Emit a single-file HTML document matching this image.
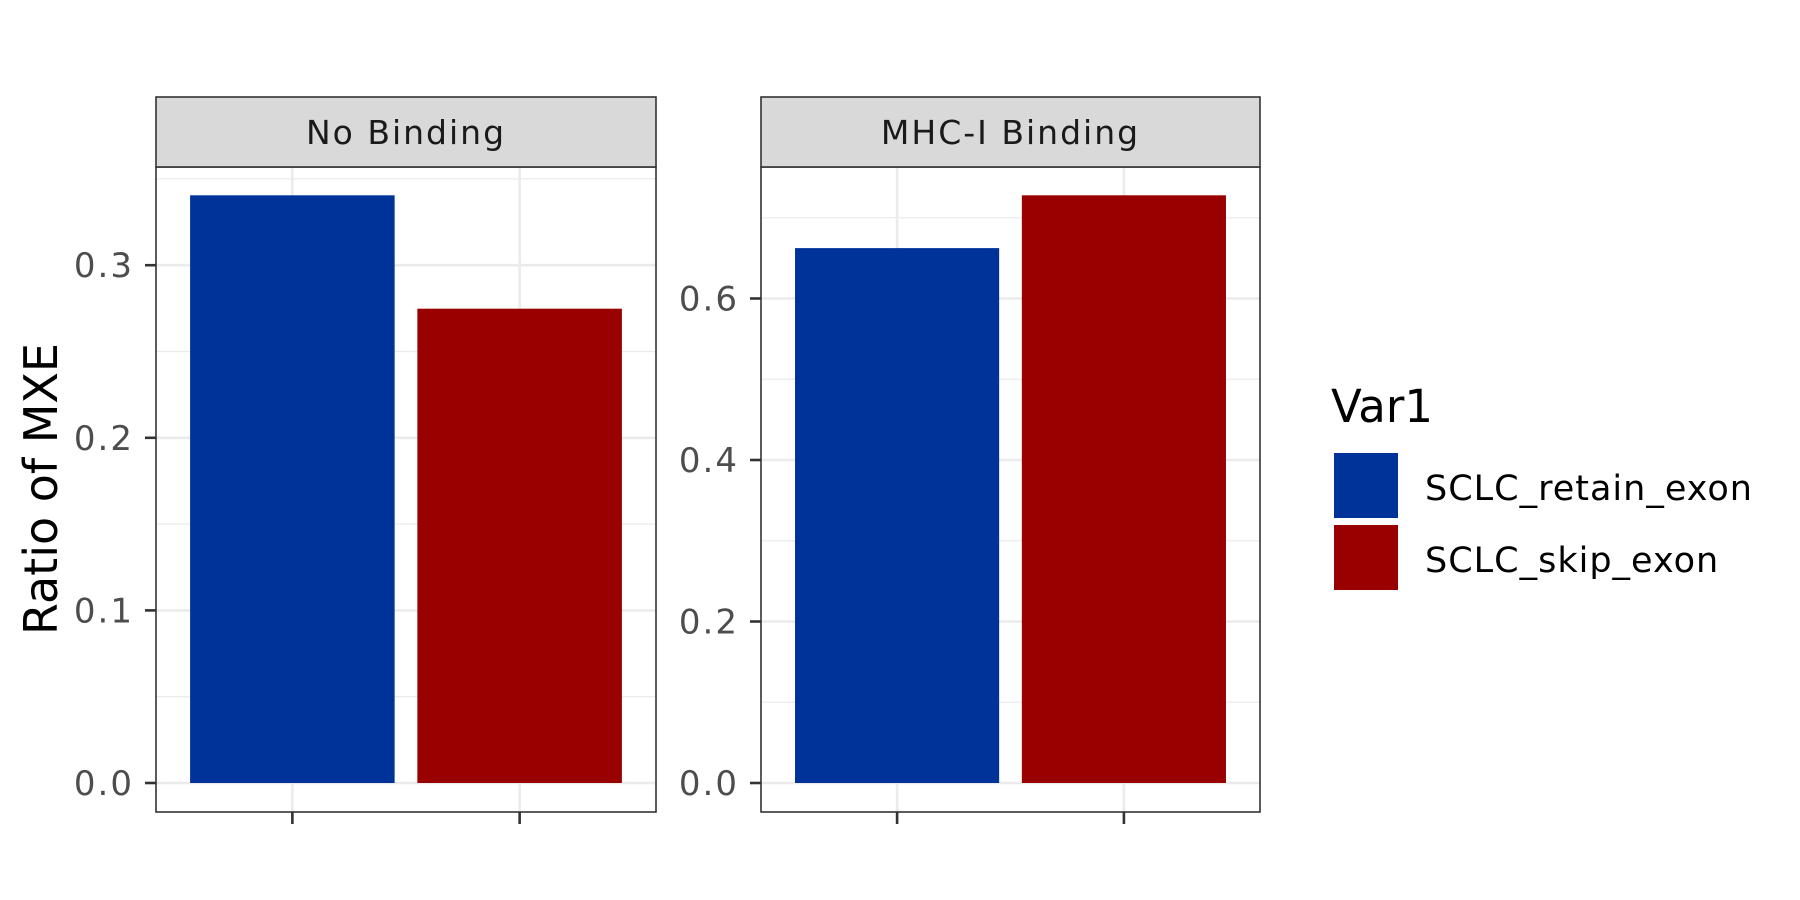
<!DOCTYPE html>
<html><head><meta charset="utf-8"><style>
body{margin:0;background:#fff}
svg{display:block;font-family:"DejaVu Sans","Liberation Sans",sans-serif}
</style></head><body>
<svg id="c" width="1800" height="900" xmlns="http://www.w3.org/2000/svg"></svg>
<script>
const categories=["SCLC_retain_exon","SCLC_skip_exon"];
const panels=["No Binding","MHC-I Binding"];
const noBindingValues=[0.3405,0.2748];
const mhcValues=[0.6624,0.7278];
const ticks1=[0,0.1,0.2,0.3];
const ticks2=[0,0.2,0.4,0.6];
const colors=["#003399","#990000"];
const svg=document.getElementById('c');
const NS="http://www.w3.org/2000/svg";
function mk(t,a,p){const e=document.createElementNS(NS,t);for(const k in a)e.setAttribute(k,a[k]);(p||svg).appendChild(e);return e;}
const y0=783,plotTop=167,plotBottom=812,stripTop=97;
const cfg=[{x0:156,x1:656,vals:noBindingValues,ticks:ticks1,pxPer:1726,minor:0.05},
           {x0:761,x1:1260,vals:mhcValues,ticks:ticks2,pxPer:807.5,minor:0.1}];
cfg.forEach((c,pi)=>{
  const g=mk('g',{});
  
  
  const y=v=>y0-v*c.pxPer;
  const unit=(c.x1-c.x0)/2.2;
  const x=i=>c.x0+(0.6+i)*unit;
  mk('rect',{x:c.x0,y:plotTop,width:c.x1-c.x0,height:plotBottom-plotTop,fill:'#fff'},g);
  const maxV=(y0-plotTop)/c.pxPer;
  for(let k=0;k*c.minor*2+c.minor<=maxV;k++){const yy=y(k*c.minor*2+c.minor);mk('line',{x1:c.x0,x2:c.x1,y1:yy,y2:yy,stroke:'#ebebeb','stroke-width':1.3},g);}
  c.ticks.forEach(t=>{const yy=y(t);mk('line',{x1:c.x0,x2:c.x1,y1:yy,y2:yy,stroke:'#ebebeb','stroke-width':2.6},g);
    mk('line',{x1:c.x0-11,x2:c.x0,y1:yy,y2:yy,stroke:'#333','stroke-width':2.6},g);
    const tl=mk('text',{x:c.x0-22,y:yy+12,'text-anchor':'end','font-size':34,fill:'#4d4d4d','letter-spacing':2},g);
    
    
    tl.textContent=t.toFixed(1);});
  categories.forEach((cat,i)=>{const xx=x(i);
    mk('line',{x1:xx,x2:xx,y1:plotTop,y2:plotBottom,stroke:'#ebebeb','stroke-width':2.6},g);
    mk('line',{x1:xx,x2:xx,y1:plotBottom,y2:plotBottom+12,stroke:'#333','stroke-width':2.6},g);});
  categories.forEach((cat,i)=>{const w=0.9*unit;
    const r=mk('rect',{x:x(i)-w/2,y:y(c.vals[i]),width:w,height:y0-y(c.vals[i]),fill:colors[i]},g);
    
    });
  mk('rect',{x:c.x0,y:plotTop,width:c.x1-c.x0,height:plotBottom-plotTop,fill:'none',stroke:'#333','stroke-width':1.6},g);
  const s=mk('rect',{x:c.x0,y:stripTop,width:c.x1-c.x0,height:plotTop-stripTop,fill:'#d9d9d9',stroke:'#333','stroke-width':1.6},g);
  
  
  const st=mk('text',{x:(c.x0+c.x1)/2,y:(stripTop+plotTop)/2+12,'text-anchor':'middle','font-size':33,fill:'#1a1a1a','letter-spacing':2},g);
  
  
  st.textContent=panels[pi];
});
const yt=mk('text',{x:0,y:0,transform:'translate(57,489) rotate(-90)','text-anchor':'middle','font-size':46,fill:'#000'});


yt.textContent='Ratio of MXE';
const lt=mk('text',{x:1331,y:422,'font-size':45,fill:'#000'});


lt.textContent='Var1';
categories.forEach((cat,i)=>{const yy=452+i*72;
  const k=mk('rect',{x:1333,y:yy,width:66,height:67,fill:colors[i],stroke:'#fff','stroke-width':2});
  
  
  const t=mk('text',{x:1425,y:yy+48,'font-size':35,fill:'#000','letter-spacing':1});
  
  
  t.textContent=cat;});
</script>
</body></html>
